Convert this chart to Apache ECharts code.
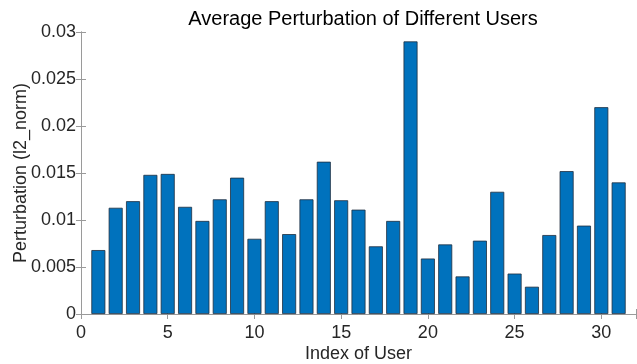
<!DOCTYPE html>
<html>
<head>
<meta charset="utf-8">
<script src="https://cdn.jsdelivr.net/npm/echarts@6/dist/echarts.min.js"></script>
<style>html,body{margin:0;padding:0;background:#fff;}#c{width:637px;height:364px;}</style>
</head>
<body>
<div id="c"></div>
<script>
var userIndex = [1,2,3,4,5,6,7,8,9,10,11,12,13,14,15,16,17,18,19,20,21,22,23,24,25,26,27,28,29,30,31];
var perturbation = [0.0068,0.0113,0.0120,0.0148,0.0149,0.0114,0.0099,0.0122,0.0145,0.0080,0.0120,0.0085,0.0122,0.0162,0.0121,0.0111,0.0072,0.0099,0.0290,0.0059,0.0074,0.0040,0.0078,0.0130,0.0043,0.0029,0.0084,0.0152,0.0094,0.0220,0.0140];
var xTicks = [0,5,10,15,20,25,30];
var yTicks = [0,0.005,0.01,0.015,0.02,0.025,0.03];

var font = 'Liberation Sans, Arial, Helvetica, sans-serif';
var textColor = '#262626';
var axisColor = '#9a9a9a';
var chart = echarts.init(document.getElementById('c'), null, {renderer: 'canvas'});
var data = userIndex.map(function(x, i){ return [x, perturbation[i]]; });
var lineStyle = {color: axisColor, width: 1};
chart.setOption({
  animation: false,
  backgroundColor: '#ffffff',
  title: {
    text: 'Average Perturbation of Different Users',
    left: 358, top: 4, textAlign: 'center',
    textStyle: {fontFamily: font, fontSize: 20, fontWeight: 'normal', color: '#000'}
  },
  grid: {left: 81, right: 1, top: 32, bottom: 50, containLabel: false, outerBoundsMode: 'none'},
  xAxis: [{
    type: 'value', min: 0, max: 32, interval: 5,
    name: 'Index of User', nameLocation: 'middle', nameGap: 31, nameMoveOverlap: false,
    nameTextStyle: {fontFamily: font, fontSize: 18, color: textColor},
    axisLine: {show: true, lineStyle: lineStyle},
    axisTick: {show: true, inside: true, length: 5, lineStyle: lineStyle},
    axisLabel: {fontFamily: font, fontSize: 18, color: textColor, margin: 10,
      formatter: function(v){ return xTicks.indexOf(v) >= 0 ? String(v) : ''; }},
    splitLine: {show: false}
  },{
    type: 'value', min: 0, max: 32, interval: 5, position: 'top',
    axisLine: {show: true, lineStyle: lineStyle},
    axisTick: {show: true, inside: true, length: 5, lineStyle: lineStyle},
    axisLabel: {show: false}, splitLine: {show: false}
  }],
  yAxis: [{
    type: 'value', min: 0, max: 0.03, interval: 0.005,
    name: 'Perturbation (l2_norm)', nameLocation: 'middle', nameGap: 51, nameMoveOverlap: false,
    nameTextStyle: {fontFamily: font, fontSize: 18, color: textColor},
    axisLine: {show: true, lineStyle: lineStyle},
    axisTick: {show: true, inside: true, length: 5, lineStyle: lineStyle},
    axisLabel: {fontFamily: font, fontSize: 18, color: textColor, margin: 5,
      formatter: function(v){
        for (var i = 0; i < yTicks.length; i++) { if (Math.abs(yTicks[i]-v) < 1e-9) return String(yTicks[i]); }
        return '';
      }},
    splitLine: {show: false}
  },{
    type: 'value', min: 0, max: 0.03, interval: 0.005, position: 'right',
    axisLine: {show: true, lineStyle: lineStyle},
    axisTick: {show: true, inside: true, length: 5, lineStyle: lineStyle},
    axisLabel: {show: false}, splitLine: {show: false}
  }],
  series: [{
    type: 'bar', xAxisIndex: 0, yAxisIndex: 0,
    data: data, barWidth: 14,
    itemStyle: {color: '#0072BD', borderColor: '#1f2f3f', borderWidth: 0.8}
  }]
});
</script>
</body>
</html>
